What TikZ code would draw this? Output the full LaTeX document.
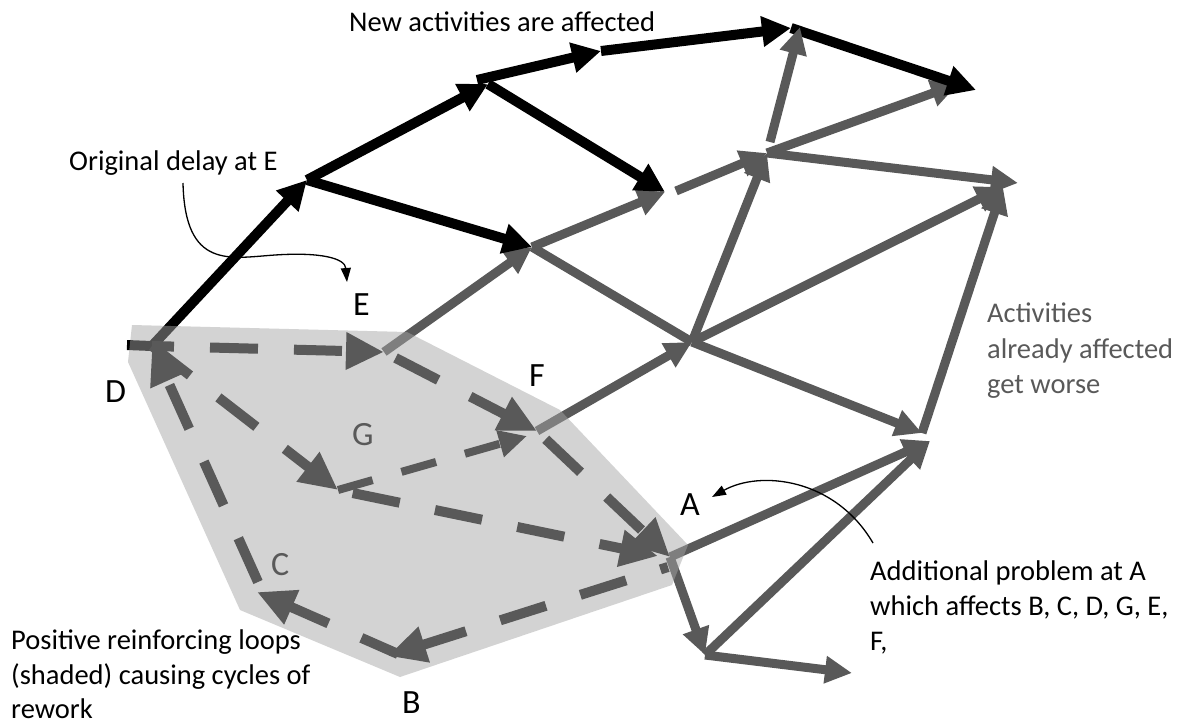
\documentclass[tikz,border=0pt]{standalone}
\usepackage{fontspec}
\setmainfont{Carlito}
\usetikzlibrary{arrows.meta}
\definecolor{dg}{RGB}{89,89,89}
\definecolor{shadecol}{RGB}{165,165,165}
\begin{document}
\begin{tikzpicture}[x=1pt,y=-1pt,
  blk/.style={draw=black,line width=10pt,-{Triangle[length=29pt,width=29pt]}},
  gry/.style={draw=dg,line width=9pt,-{Triangle[length=27pt,width=26pt]}},
  gryline/.style={draw=dg,line width=9pt},
  dsh/.style={draw=dg,line width=10pt,dash pattern=on 48pt off 36pt,-{Triangle[length=38pt,width=35pt]}},
  dshthin/.style={draw=dg,line width=8pt,dash pattern=on 36pt off 30pt,-{Triangle[length=28pt,width=26pt]}},
  txt/.style={font=\fontsize{28.5}{35}\selectfont,anchor=base west,inner sep=0pt},
  lbl/.style={font=\fontsize{34}{40}\selectfont,anchor=base west,inner sep=0pt},
  ann/.style={draw=black,line width=1.3pt,-{Triangle[length=14pt,width=10pt]}}
]
\useasboundingbox (0,0) rectangle (1179,724);
% junctions
\coordinate (D) at (152,346);
\coordinate (Dstub) at (127,345);
\coordinate (E) at (384,352);
\coordinate (F) at (537,431);
\coordinate (Fg) at (527,436);
\coordinate (G) at (338,490);
\coordinate (A) at (670,557);
\coordinate (Ab) at (668,567);
\coordinate (Ag) at (658,556);
\coordinate (B) at (388,656);
\coordinate (Bs) at (398,654);
\coordinate (C) at (257,592);
\coordinate (Cs) at (258,582);
\coordinate (P1) at (307,180);
\coordinate (P2) at (488,84);
\coordinate (P2s) at (477,80);
\coordinate (P3) at (601,51);
\coordinate (P4) at (791,28);
\coordinate (P4g) at (800,27);
\coordinate (P5) at (976,90);
\coordinate (P5g) at (958,84);
\coordinate (P6) at (665,192);
\coordinate (P6s) at (676,191);
\coordinate (P7) at (532,247);
\coordinate (P8) at (767,153);
\coordinate (P8s) at (770,142);
\coordinate (P10) at (1018,183);
\coordinate (P10g) at (1003,187);
\coordinate (P11) at (692,342);
\coordinate (P12) at (922,433);
\coordinate (P12g) at (930,441);
\coordinate (P13) at (705,655);
\coordinate (P14) at (852,673);
% gray solid arrows
\draw[gry] (E) -- (P7);
\draw[gry] (P7) -- (P6);
\draw[gryline] (P7) -- (P11);
\draw[gry] (P6s) -- (P8);
\draw[gry] (P8) -- (P5g);
\draw[gry] (P8) -- (P10);
\draw[gry] (P11) -- (P8);
\draw[gry] (P11) -- (P10g);
\draw[gry] (P11) -- (P12);
\draw[gry] (F) -- (P11);
\draw[gry] (P12) -- (P10g);
\draw[gry] (A) -- (P12g);
\draw[gry] (A) -- (P13);
\draw[gry] (P13) -- (P12g);
\draw[gry] (P13) -- (P14);
% black arrows
\draw[black,line width=10pt] (Dstub) -- (D);
\draw[blk] (D) -- (P1);
\draw[blk] (P1) -- (P2);
\draw[blk] (P1) -- (P7);
\draw[blk] (P2s) -- (P3);
\draw[blk] (P2) -- (P6);
\draw[blk] (P3) -- (P4);
\draw[blk] (P4) -- (P5);
\draw[gry] (P8s) -- (P4g);
% shaded loop region
\fill[shadecol,fill opacity=0.49] (132,325) -- (407,332) -- (560,410) -- (688,545) -- (672,585) -- (400,677) -- (240,610) -- (128,362) -- cycle;
% dashed loop arrows
\draw[dsh,dash phase=26pt] (D) -- (E);
\draw[dsh,dash phase=71pt] (E) -- (F);
\draw[dsh,dash phase=72pt] (F) -- (A);
\draw[dsh] (D) -- (G);
\draw[dsh,dash phase=69pt] (G) -- (Ag);
\draw[dshthin] (G) -- (Fg);
\draw[dsh,dash phase=40pt] (Ab) -- (B);
\draw[dsh,dash phase=8pt] (Bs) -- (C);
\draw[dsh] (Cs) -- (D);
% labels
\node[lbl] (lD) at (105,402) {D};
\node[lbl] (lE) at (353,315) {E};
\node[lbl] (lF) at (529,386) {F};
\node[lbl,text=dg] (lG) at (352,445) {G};
\node[lbl,text=dg] (lC) at (271,575) {C};
\node[lbl] (lB) at (402,713) {B};
\node[lbl] (lA) at (680,515) {A};
% texts
\node[txt] (tNew) at (349,31) {New activities are affected};
\node[txt] (tOrig) at (69,170) {Original delay at E};
\node[txt,text=dg] (tAct1) at (987,322) {Activities};
\node[txt,text=dg] (tAct2) at (987,358) {already affected};
\node[txt,text=dg] (tAct3) at (987,393) {get worse};
\node[txt] (tAdd1) at (870,580) {Additional problem at A};
\node[txt] (tAdd2) at (870,615) {which affects B, C, D, G, E,};
\node[txt] (tAdd3) at (870,650) {F,};
\node[txt] (tPos1) at (11,649) {Positive reinforcing loops};
\node[txt] (tPos2) at (11,684) {(shaded) causing cycles of};
\node[txt] (tPos3) at (11,718) {rework};
% annotation arrows
\coordinate (o1) at (183,183);
\coordinate (o2) at (347,282);
\draw[ann] (o1) .. controls (185,270) and (230,258) .. (275,255) .. controls (320,252) and (345,258) .. (o2);
\coordinate (a1) at (873,543);
\coordinate (a2) at (712,497);
\draw[ann] (a1) .. controls (835,478) and (760,470) .. (a2);
\end{tikzpicture}
\end{document}
